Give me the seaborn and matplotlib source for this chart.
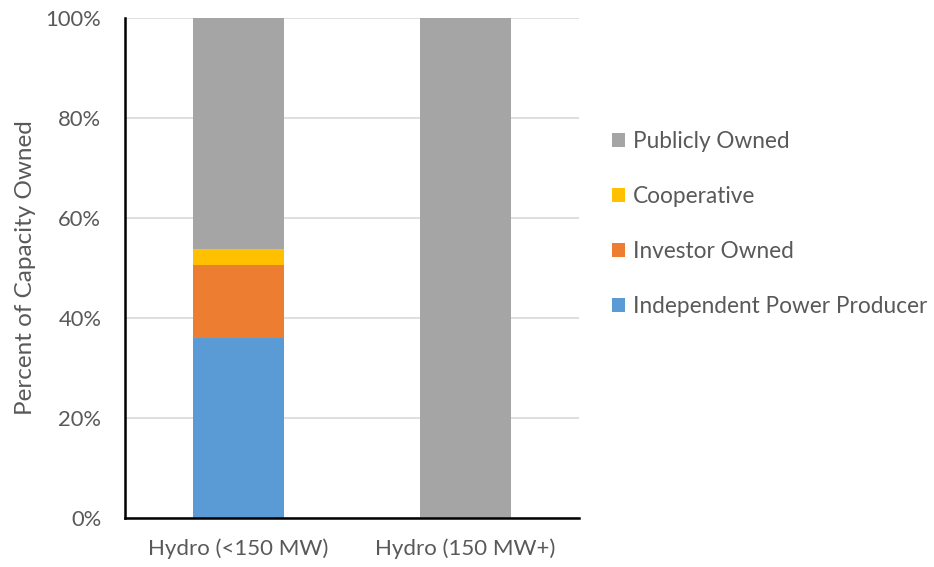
import numpy as np
import pandas as pd
import matplotlib
matplotlib.use("Agg")
import matplotlib.pyplot as plt
import seaborn as sns
from matplotlib.patches import Patch

# Ownership shares of hydro capacity (percent)
categories = ["Hydro (<150 MW)", "Hydro (150 MW+)"]
independent_power_producer = [36.1, 0.0]
investor_owned = [14.5, 0.0]
cooperative = [3.2, 0.0]
publicly_owned = [46.2, 100.0]

series_names = ["Independent Power Producer", "Investor Owned", "Cooperative", "Publicly Owned"]
series_values = [independent_power_producer, investor_owned, cooperative, publicly_owned]
series_colors = ["#5B9BD5", "#ED7D31", "#FFC000", "#A5A5A5"]

sns.set_theme(style="white")
plt.rcParams["font.family"] = ["Lato", "DejaVu Sans"]
text_color = "#595959"

fig = plt.figure(figsize=(9.34, 5.67), dpi=100)
ax = fig.add_axes([0.1338, 0.0864, 0.486, 0.8816])

# Stacked bars: draw cumulative totals from the top segment down
cum = np.cumsum(np.array(series_values), axis=0)
for i in range(len(series_names) - 1, -1, -1):
    df = pd.DataFrame({"category": categories, "value": cum[i]})
    sns.barplot(data=df, x="category", y="value", color=series_colors[i],
                width=0.4, saturation=1, ax=ax, zorder=2, linewidth=0)

ax.set_ylim(0, 100)
ax.set_xlim(-0.5, 1.5)
ax.set_yticks(np.arange(0, 101, 20))
ax.set_yticklabels([f"{v}%" for v in range(0, 101, 20)])
ax.yaxis.grid(True, color="#D9D9D9", linewidth=1.2, zorder=0)
ax.set_axisbelow(True)

for side in ["top", "right"]:
    ax.spines[side].set_visible(False)
for side in ["left", "bottom"]:
    ax.spines[side].set_color("black")
    ax.spines[side].set_linewidth(1.8)
    ax.spines[side].set_zorder(3)

ax.tick_params(axis="y", colors=text_color, labelsize=15.8, length=0, pad=17)
ax.tick_params(axis="x", colors=text_color, labelsize=16, length=0, pad=15)
ax.set_xlabel("")
ax.set_ylabel("Percent of Capacity Owned", color=text_color, fontsize=17.5, labelpad=7)

handles = [Patch(facecolor=series_colors[i], edgecolor="none") for i in range(len(series_names))][::-1]
labels = series_names[::-1]
fig.legend(handles, labels, loc="center left", bbox_to_anchor=(0.655, 0.605),
           frameon=False, fontsize=16.3, labelcolor=text_color,
           borderpad=0, borderaxespad=0,
           handlelength=0.6, handleheight=0.6, handletextpad=0.35, labelspacing=1.5)

fig.savefig("out.png", dpi=100)
